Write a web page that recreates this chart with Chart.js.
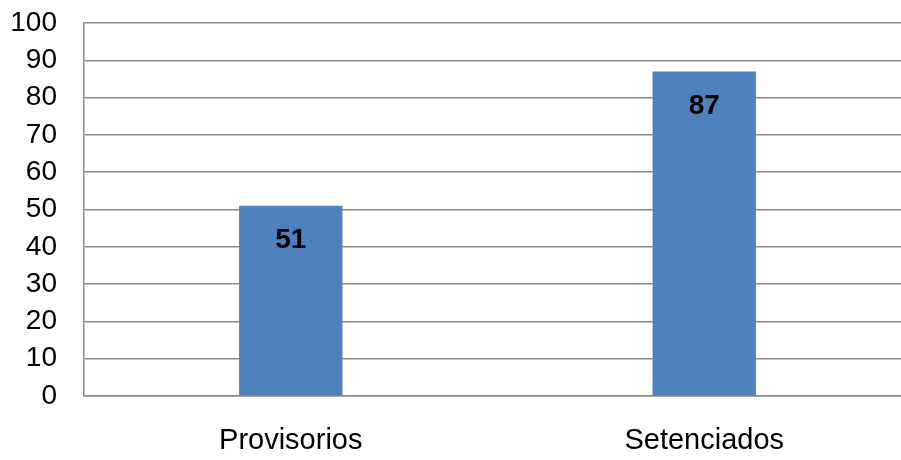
<!DOCTYPE html>
<html>
<head>
<meta charset="utf-8">
<script src="https://cdn.jsdelivr.net/npm/chart.js@4/dist/chart.umd.min.js"></script>
<style>
html,body{margin:0;padding:0;background:#fff;overflow:hidden;width:901px;height:460px;}
#wrap{width:911px;height:460px;position:relative;}
</style>
</head>
<body>
<div id="wrap"><canvas id="c"></canvas></div>
<script>
const categories = ["Provisorios", "Setenciados"];
const values = [51, 87];
const yTicks = [0,10,20,30,40,50,60,70,80,90,100];

const FONT = '"Liberation Sans", Arial, sans-serif';

const valueLabels = {
  id: 'valueLabels',
  afterDatasetsDraw(chart) {
    const ctx = chart.ctx;
    const meta = chart.getDatasetMeta(0);
    ctx.save();
    ctx.font = 'bold 28px ' + FONT;
    ctx.fillStyle = '#000';
    ctx.textAlign = 'center';
    ctx.textBaseline = 'middle';
    meta.data.forEach((bar, i) => {
      ctx.fillText(String(values[i]), bar.x, bar.y + 35);
    });
    ctx.restore();
  }
};

new Chart(document.getElementById('c'), {
  type: 'bar',
  data: {
    labels: categories,
    datasets: [{
      data: values,
      backgroundColor: '#4F81BD',
      borderWidth: 0,
      barPercentage: 0.25,
      categoryPercentage: 1.0
    }]
  },
  options: {
    responsive: true,
    maintainAspectRatio: false,
    animation: false,
    layout: { padding: { top: 23, right: 0, left: 0, bottom: 0 } },
    plugins: { legend: { display: false }, tooltip: { enabled: false } },
    scales: {
      x: {
        grid: { display: false, drawTicks: false },
        border: { display: true, color: '#8a8a8a', width: 1.5 },
        ticks: {
          color: '#000',
          font: { family: FONT, size: 29 },
          padding: 28
        },
        afterFit(scale) { scale.height = 64; scale.paddingLeft = 0; scale.paddingRight = 0; }
      },
      y: {
        min: 0, max: 100,
        afterBuildTicks(scale) { scale.ticks = yTicks.map(v => ({ value: v })); },
        grid: { color: '#8a8a8a', lineWidth: 1.5, drawTicks: false },
        border: { display: true, color: '#8a8a8a', width: 1.5 },
        ticks: {
          color: '#000',
          font: { family: FONT, size: 28 },
          padding: 27
        },
        afterFit(scale) { scale.width = 84; scale.paddingTop = 0; scale.paddingBottom = 0; }
      }
    }
  },
  plugins: [valueLabels]
});
</script>
</body>
</html>
